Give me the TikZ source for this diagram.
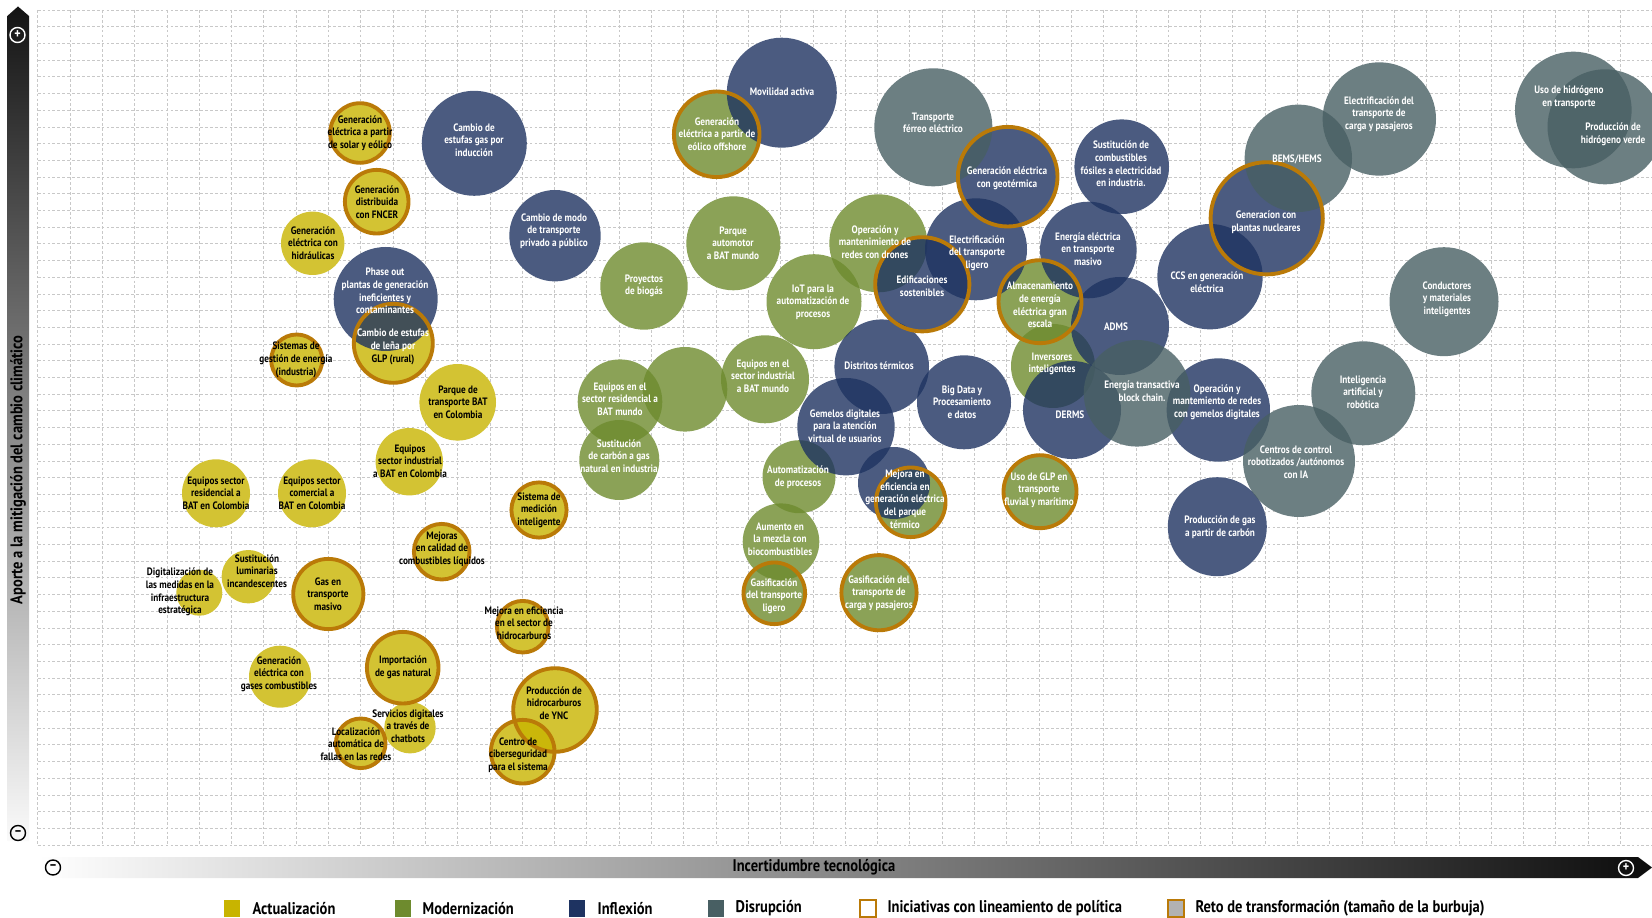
\documentclass[tikz,border=0pt]{standalone}
\usepackage{fontspec}
\setmainfont{PT Sans}[FakeStretch=0.86]
\usetikzlibrary{positioning}

\definecolor{actC}{RGB}{200,180,0}
\definecolor{modC}{RGB}{110,139,46}
\definecolor{infC}{RGB}{30,51,97}
\definecolor{disC}{RGB}{72,95,99}
\definecolor{retoC}{RGB}{186,122,8}
\definecolor{rejC}{RGB}{200,200,200}

\pgfdeclarelayer{fondo}
\pgfdeclarelayer{blanco}
\pgfdeclarelayer{anillos}
\pgfdeclarelayer{textos}
\pgfsetlayers{fondo,blanco,main,anillos,textos}

\tikzset{
  act/.style={fill=actC, fill opacity=0.8},
  mod/.style={fill=modC, fill opacity=0.8},
  inf/.style={fill=infC, fill opacity=0.8},
  dis/.style={fill=disC, fill opacity=0.8},
  txt/.style={align=center, inner sep=0pt, font=\fontsize{6.1}{7.2}\selectfont\bfseries},
  act txt/.style={txt, text=black},
  mod txt/.style={txt, text=white},
  inf txt/.style={txt, text=white},
  dis txt/.style={txt, text=white},
  anillo/.style={draw=retoC, line width=2.2pt},
  rejilla/.style={rejC, dash pattern=on 1.6pt off 1.2pt, line width=0.4pt},
  cuadro/.style={minimum width=0.32cm, minimum height=0.34cm, inner sep=0pt},
  letra/.style={font=\fontsize{9.6}{11}\selectfont\bfseries, inner sep=0pt},
  signo/.style={circle, minimum size=0.3cm, inner sep=0pt, line width=0.8pt, font=\fontsize{8}{8}\selectfont\bfseries}
}

% bubble: style, name, centre, radius, text position, text
\newcommand{\burbuja}[6]{%
  \begin{pgfonlayer}{blanco}\fill[white] (#3) circle (#4);\end{pgfonlayer}
  \fill[#1] (#3) circle (#4);
  \begin{pgfonlayer}{textos}\node[#1 txt] (#2) at (#5) {#6};\end{pgfonlayer}}
% same, with policy ring
\newcommand{\reto}[6]{%
  \burbuja{#1}{#2}{#3}{#4}{#5}{#6}
  \begin{pgfonlayer}{anillos}\draw[anillo] (#3) circle[radius=#4-1.2];\end{pgfonlayer}}

\begin{document}
\begin{tikzpicture}[x=0.02cm, y=-0.02cm]
  \useasboundingbox (0,0) rectangle (1652,918);

  % grid
  \begin{pgfonlayer}{fondo}
    \foreach \i in {0,...,50}
      \draw[rejilla] (37.7+32.3*\i,10) -- (37.7+32.3*\i,845);
    \foreach \j in {0,...,50}
      \draw[rejilla] (37.7,10+16.7*\j) -- (1652,10+16.7*\j);
  \end{pgfonlayer}

  % axes
  \shade[top color=black!92, middle color=black!42, bottom color=black!2]
    (7.3,841) -- (7.3,16) -- (18,6.5) -- (29,16) -- (29,841) -- cycle;
  \shade[left color=white, middle color=black!30, right color=black!95]
    (38,857) -- (1638,857) -- (1652,867.5) -- (1638,878) -- (38,878) -- cycle;
  \node[signo, draw=white, text=white] (masY) at (17.5,35) {+};
  \node[signo, draw=black] (menosY) at (18,833) {--};
  \node[signo, draw=black] (menosX) at (53,867.5) {--};
  \node[signo, draw=white, text=white] (masX) at (1626,868) {+};
  \node[letra, rotate=90] (ejeY) at (18,470) {Aporte a la mitigación del cambio climático};
  \node[letra] (ejeX) at (814,867.5) {Incertidumbre tecnológica};

  % Actualizacion
  \reto{act}{solar}{360,133}{31}{360,133}{Generación\\eléctrica a partir\\de solar y eólico}
  \reto{act}{fncer}{376.7,201.7}{33}{377,202}{Generación\\distribuida\\con FNCER}
  \burbuja{act}{hidraulicas}{312.7,243.3}{31.7}{313,243}{Generación\\eléctrica con\\hidráulicas}
  \reto{act}{lena}{393.3,343.3}{40.7}{393,347}{{\color{white}Cambio de estufas}\\{\color{white}de leña por}\\GLP (rural)}
  \reto{act}{gestion}{296.7,360}{26.7}{296,360}{Sistemas de\\gestión de energía\\(industria)}
  \burbuja{act}{parqueCol}{457.7,402.3}{38.3}{458,402}{Parque de\\transporte BAT\\en Colombia}
  \burbuja{act}{indCol}{409.3,461.7}{33.7}{410,461}{Equipos\\sector industrial\\a BAT en Colombia}
  \burbuja{act}{resCol}{216,493.3}{34}{216,493}{Equipos sector\\residencial a\\BAT en Colombia}
  \burbuja{act}{comCol}{312,493.3}{34}{312,493}{Equipos sector\\comercial a\\BAT en Colombia}
  \reto{act}{medicion}{539,510}{28.8}{539,510}{Sistema de\\medición\\inteligente}
  \reto{act}{calidad}{441.7,551.7}{29}{442,549}{Mejoras\\en calidad de\\combustibles líquidos}
  \burbuja{act}{luminarias}{248.3,576.7}{26.7}{257,571}{Sustitución\\luminarias\\incandescentes}
  \burbuja{act}{digital}{199.3,592.7}{23}{180,592}{Digitalización de\\las medidas en la\\infraestructura\\estratégica}
  \reto{act}{gasMasivo}{328.3,594}{36.3}{328,594}{Gas en\\transporte\\masivo}
  \reto{act}{hidrocarb}{522.7,626.7}{27}{524,623}{Mejora en eficiencia\\en el sector de\\hidrocarburos}
  \burbuja{act}{gasesComb}{280,676.7}{31}{279,674}{Generación\\eléctrica con\\gases combustibles}
  \reto{act}{importacion}{402.7,667.7}{37}{403,667}{Importación\\de gas natural}
  \burbuja{act}{chatbots}{410,727.7}{25.7}{408,726}{Servicios digitales\\a través de\\chatbots}
  \reto{act}{fallas}{360.7,743.3}{26}{356,744}{Localización\\automática de\\fallas en las redes}
  \reto{act}{ync}{555,710}{43}{554,703}{Producción de\\hidrocarburos\\de YNC}
  \reto{act}{ciber}{522.7,751.7}{33}{518,755}{Centro de\\ciberseguridad\\para el sistema}

  % Modernizacion
  \reto{mod}{offshore}{716.7,134.3}{44}{717,134}{Generación\\eléctrica a partir de\\eólico offshore}
  \burbuja{mod}{automotor}{733.3,243.3}{47}{733,243}{Parque\\automotor\\a BAT mundo}
  \burbuja{mod}{biogas}{644,286}{43.7}{644,286}{Proyectos\\de biogás}
  \burbuja{mod}{drones}{878.3,243.3}{49}{875,242}{Operación y\\mantenimiento de\\redes con drones}
  \burbuja{mod}{iot}{814,301.7}{47.5}{813,302}{IoT para la\\automatización de\\procesos}
  \burbuja{mod}{resMundo}{620,401.7}{42.3}{620,399}{Equipos en el\\sector residencial a\\BAT mundo}
  \burbuja{mod}{sinTexto}{685,389.3}{42.3}{685,389}{}
  \burbuja{mod}{indMundo}{765,379.3}{44}{763,376}{Equipos en el\\sector industrial\\a BAT mundo}
  \burbuja{mod}{carbonGas}{619.3,460}{40}{619,456}{Sustitución\\de carbón a gas\\natural en industria}
  \burbuja{mod}{automatiz}{799,476.7}{36.5}{798,477}{Automatización\\de procesos}
  \burbuja{mod}{biocomb}{781,541.7}{38.3}{780,539}{Aumento en\\la mezcla con\\biocombustibles}
  \reto{mod}{gasifLigero}{774.3,593.3}{32}{774,596}{Gasificación\\del transporte\\ligero}
  \reto{mod}{gasifCarga}{879,592.7}{38.8}{879,593}{Gasificación del\\transporte de\\carga y pasajeros}
  \reto{mod}{almacen}{1040,301.7}{42.7}{1040,305}{Almacenamiento\\de energía\\eléctrica gran\\escala}
  \burbuja{mod}{inversores}{1053,366}{42}{1052,364}{Inversores\\inteligentes}
  \reto{mod}{glp}{1040,491.7}{37.7}{1039,490}{Uso de GLP en\\transporte\\fluvial y marítimo}
  \reto{mod}{termico}{910.7,502.3}{36}{905,499}{Mejora en\\eficiencia en\\generación eléctrica\\del parque\\térmico}

  % Inflexion
  \burbuja{inf}{induccion}{474.3,143.3}{52.5}{474,140}{Cambio de\\estufas gas por\\inducción}
  \burbuja{inf}{modo}{555,235.7}{45.7}{554,231}{Cambio de modo\\de transporte\\privado a público}
  \burbuja{inf}{movilidad}{781.8,92.7}{55}{782,92}{Movilidad activa}
  \burbuja{inf}{phaseout}{385.7,299}{52}{385,291}{Phase out\\plantas de generación\\ineficientes y\\contaminantes}
  \reto{inf}{geotermica}{1007.7,176.7}{51}{1007,178}{Generación eléctrica\\con geotérmica}
  \burbuja{inf}{fosiles}{1121.7,166.7}{47.3}{1121,164}{Sustitución de\\combustibles\\fósiles a electricidad\\en industria.}
  \burbuja{inf}{ligero}{976,249.3}{51}{977,253}{Electrificación\\del transporte\\ligero}
  \reto{inf}{edificaciones}{922.3,284.3}{48.3}{922,286}{Edificaciones\\sostenibles}
  \burbuja{inf}{masivo}{1088.3,250}{48.3}{1088,249}{Energía eléctrica\\en transporte\\masivo}
  \burbuja{inf}{adms}{1120,326}{49}{1116,327}{ADMS}
  \burbuja{inf}{derms}{1072,410}{49}{1070,415}{DERMS}
  \burbuja{inf}{distritos}{881.7,366.7}{47.3}{879,366}{Distritos térmicos}
  \burbuja{inf}{bigdata}{964,402.3}{47}{962,402}{Big Data y\\Procesamiento\\e datos}
  \burbuja{inf}{gemelosUs}{846,426.7}{48.7}{845,426}{Gemelos digitales\\para la atención\\virtual de usuarios}
  \burbuja{inf}{parqueTerm}{894,483}{36}{894,483}{}
  \reto{inf}{nucleares}{1266.7,218.3}{57.3}{1266,222}{Generacíon con\\plantas nucleares}
  \burbuja{inf}{ccs}{1210,276.7}{52.7}{1207,282}{CCS en generación\\eléctrica}
  \burbuja{inf}{gemelosRed}{1218.3,410}{51.7}{1217,402}{Operación y\\mantemiento de redes\\con gemelos digitales}
  \burbuja{inf}{gasCarbon}{1217.3,526.7}{49.5}{1220,527}{Producción de gas\\a partir de carbón}

  % Disrupcion
  \burbuja{dis}{ferreo}{933.3,127.3}{59}{933,123}{Transporte\\férreo eléctrico}
  \burbuja{dis}{bems}{1298.3,158.3}{53.7}{1297,159}{BEMS/HEMS}
  \burbuja{dis}{carga}{1379.3,119}{56.7}{1379,114}{Electrificación del\\transporte de\\carga y pasajeros}
  \burbuja{dis}{usoH2}{1573.3,110}{58.3}{1569,97}{Uso de hidrógeno\\en transporte}
  \burbuja{dis}{verdeH2}{1605,126.8}{57.5}{1613,134}{Producción de\\hidrógeno verde}
  \burbuja{dis}{conductores}{1444,301.7}{54.5}{1447,299}{Conductores\\y materiales\\inteligentes}
  \burbuja{dis}{ia}{1363.3,393.3}{52}{1363,392}{Inteligencia\\artificial y\\robótica}
  \burbuja{dis}{centros}{1299,461}{56}{1296,462}{Centros de control\\robotizados /autónomos\\con IA}
  \burbuja{dis}{transactiva}{1137,393.3}{53.3}{1142,391}{Energía transactiva\\block chain.}

  % legend
  \node[cuadro, fill=actC] (lAct) at (232,908.5) {};
  \node[letra, right=0.24cm of lAct] (tAct) {Actualización};
  \node[cuadro, fill=modC] (lMod) at (403,908.5) {};
  \node[letra, right=0.22cm of lMod] (tMod) {Modernización};
  \node[cuadro, fill=infC] (lInf) at (577,908.5) {};
  \node[letra, right=0.24cm of lInf] (tInf) {Inflexión};
  \node[cuadro, fill=disC] (lDis) at (716,908.5) {};
  \node[letra, right=0.22cm of lDis] (tDis) {Disrupción};
  \node[cuadro, draw=retoC, line width=1.3pt, fill=white] (lIni) at (868,908.5) {};
  \node[letra, right=0.2cm of lIni] (tIni) {Iniciativas con lineamiento de política};
  \node[cuadro, draw=retoC, line width=1.3pt, fill=black!30] (lReto) at (1176,908.5) {};
  \node[letra, right=0.2cm of lReto] (tReto) {Reto de transformación (tamaño de la burbuja)};
\end{tikzpicture}
\end{document}
